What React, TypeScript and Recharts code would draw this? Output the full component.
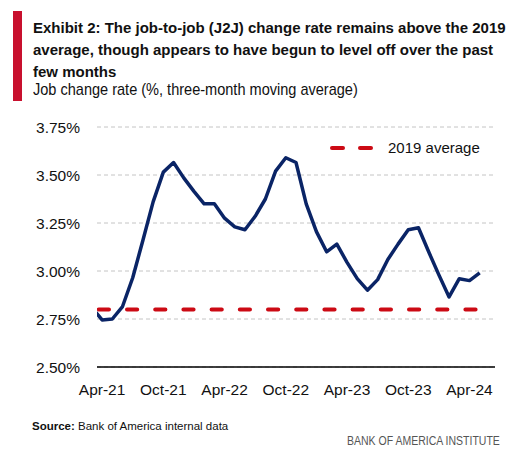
import React from 'react';
import { LineChart, Line, XAxis, YAxis, CartesianGrid, Legend } from 'recharts';

// monthly, Mar-21 is only there so the line enters from the left edge like the original
const months = [
    'Mar-21', 'Apr-21', 'May-21', 'Jun-21', 'Jul-21', 'Aug-21', 'Sep-21', 'Oct-21', 'Nov-21', 'Dec-21',
    'Jan-22', 'Feb-22', 'Mar-22', 'Apr-22', 'May-22', 'Jun-22', 'Jul-22', 'Aug-22', 'Sep-22', 'Oct-22', 'Nov-22', 'Dec-22',
    'Jan-23', 'Feb-23', 'Mar-23', 'Apr-23', 'May-23', 'Jun-23', 'Jul-23', 'Aug-23', 'Sep-23', 'Oct-23', 'Nov-23', 'Dec-23',
    'Jan-24', 'Feb-24', 'Mar-24', 'Apr-24', 'May-24',
];

const jobChangeRate = [
    2.81, 2.745, 2.75, 2.815, 2.965, 3.16, 3.36, 3.515, 3.565, 3.485,
    3.415, 3.35, 3.35, 3.275, 3.23, 3.215, 3.285, 3.375, 3.52, 3.59, 3.565, 3.35,
    3.205, 3.1, 3.14, 3.045, 2.96, 2.9, 2.955, 3.06, 3.14, 3.215, 3.225, 3.1,
    2.98, 2.865, 2.96, 2.95, 2.99,
];

const avg2019 = 2.8;

const xTickLabels = ['Apr-21', 'Oct-21', 'Apr-22', 'Oct-22', 'Apr-23', 'Oct-23', 'Apr-24'];
const yTicks = [2.5, 2.75, 3.0, 3.25, 3.5, 3.75];

const data = months.map((m, i) => ({ idx: i - 1, month: m, rate: jobChangeRate[i], avg: avg2019 }));
const xTicks = xTickLabels.map((l) => months.indexOf(l) - 1);

const SANS = '"Liberation Sans", Arial, sans-serif';
const NAVY = '#0a2466';
const RED = '#cc0a14';

const renderLegend = () => (
    <svg width={170} height={24}>
        <line x1={9} y1={12} x2={20} y2={12} stroke={RED} strokeWidth={4} strokeLinecap="round" />
        <line x1={37} y1={12} x2={48} y2={12} stroke={RED} strokeWidth={4} strokeLinecap="round" />
        <text x={65} y={17.3} fontSize={15} fontFamily={SANS} fill="#111">2019 average</text>
    </svg>
);

const App: React.FC = () => {
    return (
        <div style={{ position: 'absolute', left: 0, top: 0, width: 515, height: 462, background: '#fff', fontFamily: SANS, color: '#111' }}>
            <div style={{ position: 'absolute', left: 13, top: 11, width: 9, height: 90, background: '#c8102e' }} />
            <div style={{ position: 'absolute', left: 33, top: 16.5, fontSize: 15, lineHeight: '22px', fontWeight: 700, whiteSpace: 'nowrap' }}>
                Exhibit 2: The job-to-job (J2J) change rate remains above the 2019<br />
                average, though appears to have begun to level off over the past<br />
                few months
            </div>
            <div style={{ position: 'absolute', left: 33, top: 80, fontSize: 17, lineHeight: '20px', whiteSpace: 'nowrap', transform: 'scaleX(0.855)', transformOrigin: 'left top' }}>
                Job change rate (%, three-month moving average)
            </div>

            <div style={{ position: 'absolute', left: 0, top: 0 }}>
                <LineChart width={515} height={462} data={data} margin={{ top: 127, right: 20, bottom: 65, left: 0 }}>
                    <CartesianGrid horizontal vertical={false} stroke="#c4c4c4" strokeDasharray="4 3" />
                    <XAxis
                        dataKey="idx"
                        type="number"
                        domain={[-0.5, 38.5]}
                        allowDataOverflow
                        ticks={xTicks}
                        tickFormatter={(v: number) => months[v + 1]}
                        height={30}
                        tickLine={false}
                        tickSize={0}
                        tickMargin={17}
                        axisLine={{ stroke: '#000', strokeWidth: 1.5 }}
                        tick={{ fill: '#111', fontSize: 15.5, fontFamily: SANS }}
                    />
                    <YAxis
                        domain={[2.5, 3.75]}
                        ticks={yTicks}
                        tickFormatter={(v: number) => v.toFixed(2) + '%'}
                        width={97}
                        tickLine={false}
                        axisLine={false}
                        tickSize={0}
                        tickMargin={17}
                        tick={{ fill: '#111', fontSize: 15.5, fontFamily: SANS }}
                    />
                    <Legend
                        content={renderLegend}
                        layout="horizontal"
                        verticalAlign="middle"
                        align="center"
                        wrapperStyle={{ top: 136, left: 323, width: 170, height: 24 }}
                    />
                    <Line
                        dataKey="rate"
                        stroke={NAVY}
                        strokeWidth={3.5}
                        dot={false}
                        strokeLinejoin="round"
                        isAnimationActive={false}
                    />
                    <Line
                        dataKey="avg"
                        stroke={RED}
                        strokeWidth={4}
                        strokeDasharray="10.2 18"
                        strokeDashoffset={-6.9}
                        strokeLinecap="round"
                        dot={false}
                        isAnimationActive={false}
                    />
                </LineChart>
            </div>

            <div style={{ position: 'absolute', left: 32, top: 418, fontSize: 11.5, lineHeight: '16px', whiteSpace: 'nowrap' }}>
                <b>Source:</b> Bank of America internal data
            </div>
            <div style={{ position: 'absolute', left: 347, top: 433, fontSize: 12.5, lineHeight: '16px', color: '#555', whiteSpace: 'nowrap', transform: 'scaleX(0.84)', transformOrigin: 'left top' }}>
                BANK OF AMERICA INSTITUTE
            </div>
        </div>
    );
};

export default App;
